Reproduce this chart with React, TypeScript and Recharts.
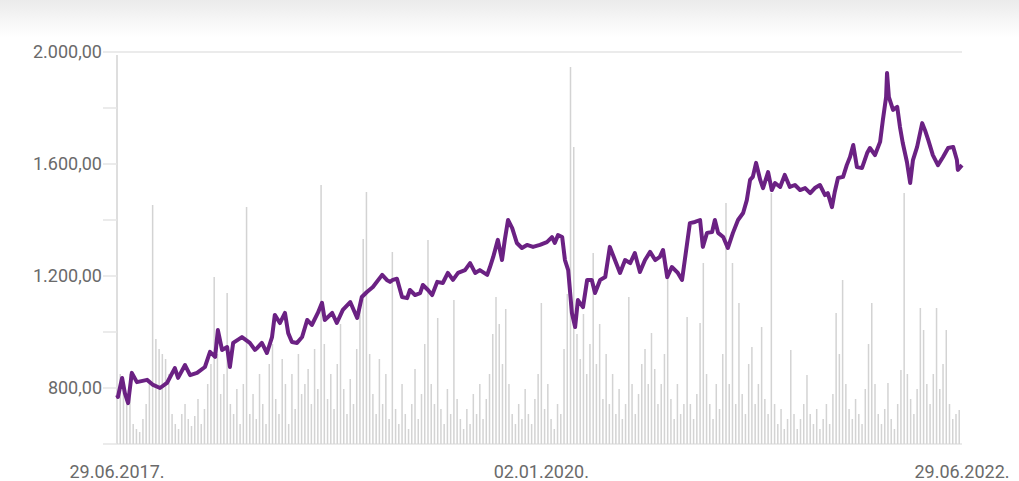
import { ComposedChart, Line, Bar, XAxis, YAxis, CartesianGrid } from "recharts"

// days counted from 29.06.2017
const priceDays = [
  0, 2, 11, 17, 24, 32, 43, 65, 78, 93, 108, 125, 132, 147, 158, 173, 190, 201, 212, 218, 227, 238, 244, 251, 270, 287, 298,
  303, 313, 324, 335, 341, 352, 363, 370, 378, 389, 400, 411, 421, 434, 443, 449, 465, 475, 488, 504, 519, 529, 540, 553, 573, 583,
  590, 596, 605, 616, 627, 633, 644, 655, 661, 672, 681, 692, 704, 715, 726, 737, 752, 763, 774, 784, 800, 806, 813, 823, 832, 838,
  845, 854, 864, 875, 886, 899, 914, 929, 940, 946, 953, 962, 968, 975, 983, 990, 996, 1007, 1016, 1026, 1033, 1044, 1055, 1065,
  1076, 1087, 1098, 1109, 1119, 1130, 1141, 1152, 1163, 1173, 1180, 1189, 1199, 1212, 1221, 1227, 1238, 1249, 1260, 1266, 1275,
  1286, 1292, 1299, 1310, 1320, 1331, 1342, 1353, 1361, 1368, 1374, 1381, 1390, 1396, 1407, 1415, 1422, 1433, 1443, 1454, 1465,
  1476, 1487, 1498, 1508, 1519, 1530, 1536, 1545, 1551, 1558, 1569, 1577, 1584, 1591, 1599, 1610, 1621, 1627, 1638, 1649, 1655,
  1662, 1664, 1668, 1677, 1686, 1692, 1698, 1707, 1714, 1720, 1729, 1740, 1746, 1753, 1763, 1774, 1785, 1796, 1807, 1815, 1817, 1826,
]

const prices = [
  775, 768, 836, 782, 746, 854, 821, 829, 811, 800, 818, 871, 836, 882, 846, 854, 875, 929, 911, 1007, 936, 946, 875, 961, 982, 961, 936,
  943, 961, 925, 982, 1061, 1032, 1068, 996, 964, 961, 982, 1043, 1025, 1068, 1104, 1043, 1068, 1032, 1079, 1107, 1050, 1125, 1143, 1161, 1204, 1186,
  1179, 1186, 1190, 1125, 1121, 1150, 1132, 1139, 1168, 1150, 1132, 1179, 1175, 1211, 1186, 1211, 1221, 1246, 1211, 1221, 1204, 1232, 1268, 1329, 1257, 1329,
  1400, 1371, 1318, 1300, 1311, 1304, 1311, 1321, 1339, 1318, 1346, 1339, 1257, 1221, 1068, 1018, 1114, 1089, 1186, 1186, 1139, 1186, 1196, 1304,
  1257, 1211, 1257, 1246, 1282, 1214, 1257, 1286, 1257, 1268, 1293, 1196, 1232, 1211, 1186, 1257, 1389, 1393, 1400, 1304, 1354,
  1357, 1400, 1354, 1339, 1300, 1354, 1400, 1425, 1471, 1543, 1554, 1604, 1543, 1514, 1571, 1507, 1532, 1518, 1561, 1518, 1525,
  1507, 1514, 1496, 1514, 1525, 1489, 1496, 1446, 1500, 1550, 1554, 1596, 1625, 1668, 1589, 1586, 1639, 1657, 1632, 1679, 1757,
  1839, 1925, 1839, 1793, 1804, 1732, 1675, 1607, 1532, 1614, 1661, 1746, 1721, 1686, 1632, 1596, 1625, 1657, 1661, 1614, 1579, 1596,
]

// one value per week, starting 29.06.2017
const weeklyVolumes = [
  389, 70, 55, 40, 70, 20, 15, 12, 25, 40, 60, 239, 105, 95, 90, 85, 70, 30, 20, 15,
  30, 40, 25, 18, 28, 45, 20, 35, 60, 80, 167, 90, 50, 70, 151, 40, 30, 55, 20, 60,
  237, 30, 50, 25, 70, 40, 20, 80, 100, 45, 30, 85, 60, 20, 70, 35, 90, 50, 60, 75,
  40, 95, 55, 259, 100, 45, 70, 35, 80, 120, 55, 30, 65, 40, 95, 140, 205, 252, 90, 50,
  30, 85, 40, 70, 25, 192, 35, 20, 60, 30, 15, 40, 75, 25, 50, 100, 204, 60, 40, 126,
  35, 20, 55, 30, 144, 45, 25, 15, 35, 20, 50, 30, 60, 25, 45, 70, 110, 147, 120, 80,
  135, 60, 30, 20, 40, 25, 55, 30, 20, 45, 70, 141, 35, 60, 25, 15, 40, 30, 95, 150,
  377, 297, 110, 85, 130, 70, 100, 191, 80, 120, 45, 90, 40, 70, 30, 55, 25, 40, 147, 60,
  30, 50, 80, 95, 60, 111, 75, 40, 60, 90, 171, 45, 25, 60, 30, 40, 127, 40, 25, 50,
  121, 181, 70, 40, 25, 60, 35, 90, 241, 60, 181, 40, 141, 50, 30, 80, 97, 40, 60, 117,
  45, 30, 251, 40, 20, 35, 15, 25, 94, 30, 15, 25, 40, 69, 30, 20, 35, 15, 25, 40,
  20, 50, 131, 90, 164, 60, 35, 25, 45, 30, 20, 55, 100, 141, 60, 30, 20, 35, 61, 25,
  15, 40, 74, 251, 70, 45, 30, 55, 136, 114, 60, 40, 70, 136, 55, 80, 114, 40, 25, 30,
  34,
]

const tickDays = [0, 917, 1826]
const tickLabels = ["29.06.2017.", "02.01.2020.", "29.06.2022."]
const priceTicks = [600, 800, 1000, 1200, 1400, 1600, 1800, 2000]
const labelledPrices = [800, 1200, 1600, 2000]

type Row = { day: number; price?: number; volume?: number }

const rowMap = new Map<number, Row>()
priceDays.forEach((d, i) => {
  rowMap.set(d, { ...(rowMap.get(d) ?? { day: d }), price: prices[i] })
})
weeklyVolumes.forEach((v, i) => {
  const d = i * 7
  rowMap.set(d, { ...(rowMap.get(d) ?? { day: d }), volume: v })
})
const data = [...rowMap.values()].sort((a, b) => a.day - b.day)

const fmtPrice = (v: number) =>
  labelledPrices.includes(v)
    ? v.toLocaleString("de-DE", { minimumFractionDigits: 2, maximumFractionDigits: 2 })
    : ""

const fmtDay = (d: number) => tickLabels[tickDays.indexOf(d)] ?? ""

// thin volume stick, independent of the (tiny) band size recharts computes
const VolumeStick = (props: any) => {
  const { x, y, width, height } = props
  if (!height || height <= 0) return null
  return <rect x={x + width / 2 - 0.75} y={y} width={1.5} height={height} fill="#d3d3d3" />
}

export default function App() {
  return (
    <div
      style={{
        position: "absolute",
        top: 0,
        left: 0,
        width: 1019,
        height: 481,
        background: "linear-gradient(#ebebeb 0px, #f5f5f5 18px, #ffffff 38px)",
        fontFamily: "Roboto, sans-serif",
      }}
    >
      <ComposedChart width={1019} height={481} data={data} margin={{ top: 52, right: 57, bottom: 0, left: 0 }}>
        <CartesianGrid vertical={false} stroke="#e4e4e4" strokeWidth={1.5} />
        <XAxis
          dataKey="day"
          type="number"
          domain={[0, 1826]}
          ticks={tickDays}
          tickFormatter={fmtDay}
          axisLine={false}
          tickLine={false}
          tickSize={0}
          tickMargin={21}
          height={37}
          interval={0}
          tick={{ fill: "#6a6a6a", fontSize: 18 }}
        />
        <YAxis
          yAxisId="price"
          domain={[600, 2000]}
          ticks={priceTicks}
          tickFormatter={fmtPrice}
          axisLine={false}
          tickLine={{ stroke: "#e4e4e4", strokeWidth: 1.5 }}
          tickSize={14}
          tickMargin={1}
          width={117}
          interval={0}
          tick={{ fill: "#6a6a6a", fontSize: 18 }}
        />
        <YAxis yAxisId="vol" orientation="right" domain={[0, 392]} hide />
        <Bar yAxisId="vol" dataKey="volume" fill="#d3d3d3" shape={VolumeStick} isAnimationActive={false} />
        <Line
          yAxisId="price"
          dataKey="price"
          stroke="#6b2183"
          strokeWidth={4}
          dot={false}
          connectNulls
          strokeLinejoin="round"
          isAnimationActive={false}
        />
      </ComposedChart>
    </div>
  )
}
